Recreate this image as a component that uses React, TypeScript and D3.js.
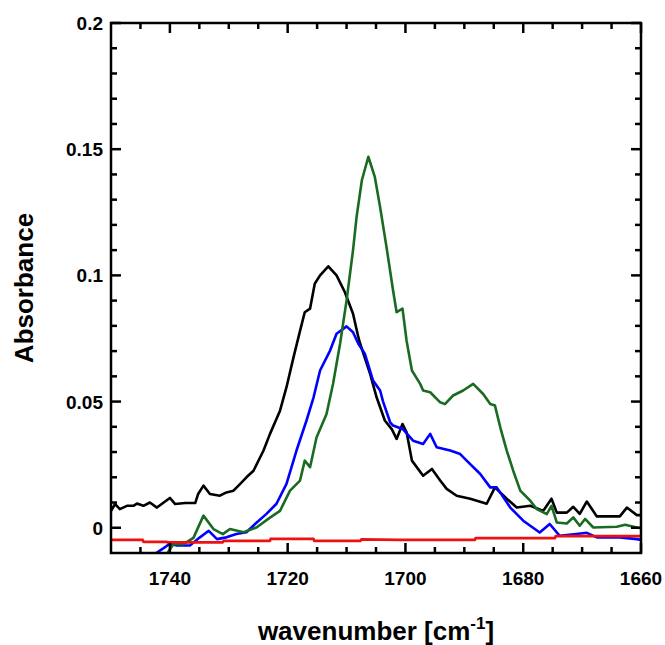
import React from "react";
import * as d3 from "d3";

// ---- data ----
const blackWn = [1750, 1749.3, 1748.5, 1747.3, 1746.2, 1745.6, 1744.5, 1743.4, 1742.2, 1741.4, 1740, 1739.1, 1737.4, 1735.7, 1735.2, 1734.3, 1733.2, 1731.5, 1730.4, 1729.2, 1728.1, 1727, 1725.8, 1724.1, 1723, 1721.3, 1720.2, 1719, 1717.9, 1717.1, 1716.2, 1715.4, 1714.5, 1713.1, 1711.7, 1710.3, 1708.9, 1708, 1707.7, 1706, 1704.9, 1703.5, 1702.3, 1701.5, 1700.5, 1699.8, 1698.9, 1697, 1695.5, 1694.1, 1693, 1691.3, 1689, 1686.2, 1684.8, 1682.8, 1681.1, 1678.8, 1676.6, 1675.2, 1674.3, 1672.6, 1671.5, 1670.4, 1669.2, 1667.5, 1663.6, 1662.4, 1660.7, 1660];
const blackAbs = [0.0067, 0.0094, 0.0074, 0.0087, 0.0087, 0.0096, 0.0087, 0.01, 0.008, 0.0094, 0.0118, 0.0094, 0.0098, 0.0098, 0.0134, 0.0167, 0.0134, 0.0127, 0.014, 0.0147, 0.0173, 0.02, 0.0226, 0.0306, 0.0372, 0.0464, 0.0557, 0.0676, 0.078, 0.0854, 0.0868, 0.0967, 0.1, 0.1036, 0.1, 0.0934, 0.0848, 0.0755, 0.073, 0.061, 0.0517, 0.0425, 0.039, 0.0352, 0.0411, 0.0378, 0.0266, 0.0206, 0.0233, 0.0187, 0.0154, 0.0127, 0.0115, 0.0095, 0.016, 0.0115, 0.008, 0.0087, 0.0067, 0.0115, 0.006, 0.006, 0.0083, 0.0055, 0.0104, 0.0045, 0.0045, 0.008, 0.005, 0.005];

const blueWn = [1743.5, 1742.5, 1741.2, 1740, 1738.8, 1736.6, 1734.9, 1733.4, 1732, 1730.4, 1728.7, 1727, 1725.3, 1723.6, 1721.9, 1720.2, 1718.5, 1716.8, 1715.6, 1714.5, 1712.8, 1711.7, 1710, 1708.9, 1708, 1706.9, 1705.5, 1704.3, 1703.8, 1702.6, 1702.1, 1700.4, 1698.7, 1697, 1695.8, 1694.7, 1692.4, 1690.7, 1689.6, 1687.3, 1685.6, 1684.5, 1682.2, 1680, 1677.2, 1675.5, 1673.8, 1671, 1669.2, 1667.5, 1663.6, 1660.7, 1660];
const blueAbs = [-0.013, -0.0103, -0.0083, -0.0063, -0.007, -0.007, -0.0038, -0.0012, -0.0045, -0.0038, -0.0025, -0.0018, 0.002, 0.0055, 0.0095, 0.0174, 0.0306, 0.0425, 0.0517, 0.0623, 0.0702, 0.0769, 0.0798, 0.0775, 0.0729, 0.069, 0.0583, 0.0544, 0.05, 0.0418, 0.0405, 0.039, 0.0345, 0.0332, 0.0372, 0.0319, 0.0306, 0.0292, 0.0266, 0.0213, 0.016, 0.016, 0.008, 0.0028, -0.0019, 0.0015, -0.0032, -0.0025, -0.002, -0.0038, -0.0038, -0.0045, -0.0048];

const greenWn = [1741.5, 1740.5, 1739.4, 1737.7, 1736, 1734.3, 1732.6, 1731, 1729.8, 1727.5, 1725.3, 1723, 1721.3, 1719.6, 1717.9, 1717.1, 1716.2, 1715.1, 1713.4, 1712.3, 1711.1, 1710, 1708.9, 1708.3, 1707.4, 1706.3, 1705.2, 1704.3, 1703.2, 1702.1, 1701.5, 1700.5, 1699.8, 1698.9, 1697.5, 1697, 1695.8, 1694.1, 1693.3, 1691.9, 1690.2, 1688.5, 1686.8, 1685.6, 1684.8, 1683.9, 1682.8, 1681.7, 1680.5, 1678.8, 1677.7, 1676, 1675.2, 1674.3, 1672.6, 1671.5, 1670.4, 1669.5, 1668.1, 1664.1, 1662.7, 1660.7, 1660];
const greenAbs = [-0.013, -0.0103, -0.0065, -0.0065, -0.004, 0.0048, -0.0005, -0.0025, -0.0005, -0.0018, 0.0001, 0.004, 0.0067, 0.0147, 0.0187, 0.0266, 0.024, 0.0358, 0.0451, 0.057, 0.0729, 0.09, 0.11, 0.1231, 0.1377, 0.147, 0.139, 0.127, 0.111, 0.094, 0.0854, 0.0868, 0.074, 0.0623, 0.057, 0.0544, 0.0537, 0.0497, 0.049, 0.0524, 0.0544, 0.057, 0.053, 0.049, 0.0484, 0.0398, 0.0306, 0.0226, 0.0147, 0.0107, 0.0074, 0.0054, 0.0087, 0.0021, 0.0017, 0.0041, 0.0008, 0.0035, 0.0001, 0.0004, 0.0012, 0.0001, -0.0002];

const redWn = [1750, 1744.6, 1744.5, 1740.5, 1740.4, 1731, 1730.9, 1723, 1722.9, 1715.6, 1715.5, 1707.6, 1707.5, 1701, 1688.2, 1688.1, 1674.6, 1674.5, 1660];
const redAbs = [-0.0048, -0.0048, -0.0056, -0.0056, -0.0058, -0.0058, -0.0052, -0.0052, -0.0044, -0.0044, -0.0052, -0.0052, -0.0046, -0.0048, -0.0048, -0.0041, -0.0041, -0.0033, -0.0033];

const xMajorTicks = [1740, 1720, 1700, 1680, 1660];
const yMajorTicks = [0, 0.05, 0.1, 0.15, 0.2];
const yTickLabels = ["0", "0.05", "0.1", "0.15", "0.2"];

const series = [
  { name: "black", wn: blackWn, abs: blackAbs, color: "#000000" },
  { name: "blue", wn: blueWn, abs: blueAbs, color: "#0000ff" },
  { name: "green", wn: greenWn, abs: greenAbs, color: "#1a6b22" },
  { name: "red", wn: redWn, abs: redAbs, color: "#ee1111" },
];

const W = 665, H = 645;
const L = 111, R = 641, T = 23, B = 553;
const FONT = "'Liberation Sans', Arial, Helvetica, sans-serif";

export default function App() {
  const x = d3.scaleLinear().domain([1750, 1660]).range([L, R]);
  const y = d3.scaleLinear().domain([-0.01, 0.2]).range([B, T]);

  const xMinor = d3.range(1745, 1660, -5).filter((v) => !xMajorTicks.includes(v));
  const yMinor = d3.range(1, 20).map((i) => i / 100).filter((v) => Math.abs((v * 100) % 5) > 1e-6);

  const line = d3
    .line<[number, number]>()
    .x((d) => x(d[0]))
    .y((d) => y(d[1]));

  const majLen = 10, minLen = 6, tw = 2.5;

  return (
    <svg width={W} height={H} style={{ position: "absolute", left: 0, top: 0, background: "#fff" }}>
      <defs>
        <clipPath id="plotclip">
          <rect x={L} y={T} width={R - L} height={B - T} />
        </clipPath>
      </defs>
      <g clipPath="url(#plotclip)" fill="none" strokeWidth={2.6} strokeLinejoin="round">
        {series.map((s) => (
          <path
            key={s.name}
            d={line(s.wn.map((w, i) => [w, s.abs[i]] as [number, number])) || ""}
            stroke={s.color}
          />
        ))}
      </g>
      {/* ticks */}
      <g stroke="#000" strokeWidth={tw}>
        {xMajorTicks.map((v) => (
          <g key={"xm" + v}>
            <line x1={x(v)} x2={x(v)} y1={B} y2={B - majLen} />
            <line x1={x(v)} x2={x(v)} y1={T} y2={T + majLen} />
          </g>
        ))}
        {xMinor.map((v) => (
          <g key={"xn" + v}>
            <line x1={x(v)} x2={x(v)} y1={B} y2={B - minLen} />
            <line x1={x(v)} x2={x(v)} y1={T} y2={T + minLen} />
          </g>
        ))}
        {yMajorTicks.map((v) => (
          <g key={"ym" + v}>
            <line x1={L} x2={L + majLen} y1={y(v)} y2={y(v)} />
            <line x1={R} x2={R - majLen} y1={y(v)} y2={y(v)} />
          </g>
        ))}
        {yMinor.map((v) => (
          <g key={"yn" + v}>
            <line x1={L} x2={L + minLen} y1={y(v)} y2={y(v)} />
            <line x1={R} x2={R - minLen} y1={y(v)} y2={y(v)} />
          </g>
        ))}
      </g>
      <rect x={L} y={T} width={R - L} height={B - T} fill="none" stroke="#000" strokeWidth={2.5} />
      {/* tick labels */}
      <g fontFamily={FONT} fontWeight="bold" fontSize={19} fill="#000">
        {xMajorTicks.map((v) => (
          <text key={"xl" + v} x={x(v)} y={585} textAnchor="middle">
            {v}
          </text>
        ))}
        {yMajorTicks.map((v, i) => (
          <text key={"yl" + v} x={103} y={y(v) + 7} textAnchor="end">
            {yTickLabels[i]}
          </text>
        ))}
      </g>
      {/* axis titles */}
      <text
        fontFamily={FONT}
        fontWeight="bold"
        fontSize={26}
        fill="#000"
        x={(L + R) / 2}
        y={640}
        textAnchor="middle"
      >
        wavenumber [cm
        <tspan fontSize={17} dy={-11}>-1</tspan>
        <tspan dy={11}>]</tspan>
      </text>
      <text
        fontFamily={FONT}
        fontWeight="bold"
        fontSize={26}
        fill="#000"
        transform={`translate(33, ${(T + B) / 2}) rotate(-90)`}
        textAnchor="middle"
      >
        Absorbance
      </text>
    </svg>
  );
}
